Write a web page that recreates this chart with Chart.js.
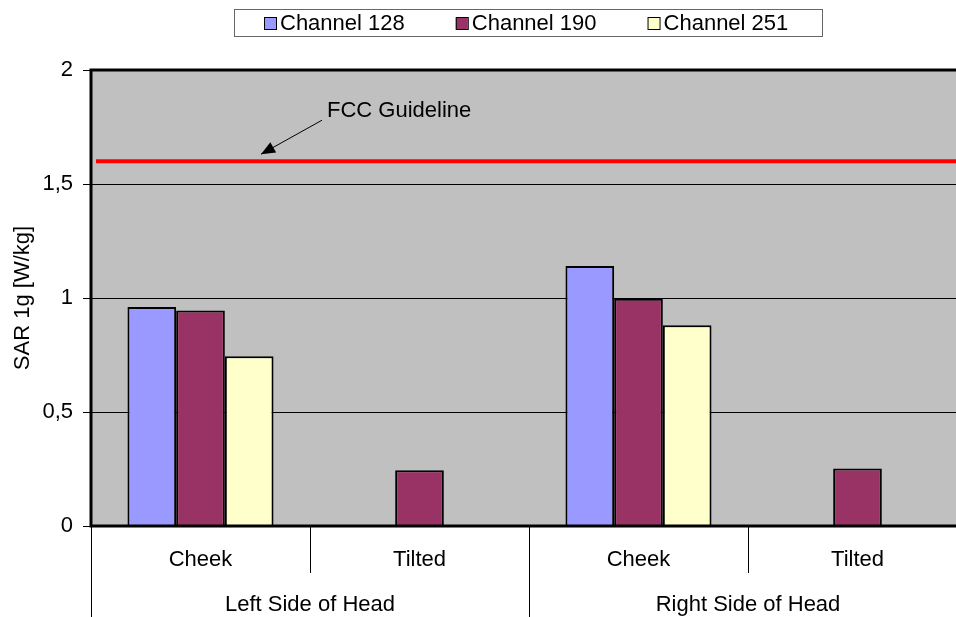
<!DOCTYPE html>
<html lang="en">
<head>
<meta charset="utf-8">
<title>SAR 1g</title>
<style>
body { margin: 0; background: #fff; }
.holder { width: 956px; height: 617px; overflow: hidden; position: relative; }
canvas { display: block; }
</style>
</head>
<body>
<div class="holder">
  <canvas id="canvas" width="985" height="617" style="width:985px;height:617px;"></canvas>
</div>

<script src="https://cdn.jsdelivr.net/npm/chart.js"></script>
<script>
// data
const categories = ["Cheek", "Tilted", "Cheek", "Tilted"];
const groups = ["Left Side of Head", "Right Side of Head"];
const seriesNames = ["Channel 128", "Channel 190", "Channel 251"];
const ch128 = [0.96, null, 1.14, null];
const ch190 = [0.945, 0.245, 0.997, 0.252];
const ch251 = [0.745, null, 0.88, null];
const yTicks = ["0", "0,5", "1", "1,5", "2"];
const guideline = 1.6;
const guideText = "FCC Guideline";

const colors = ["#9999FF", "#993366", "#FFFFCC"];
const FONT = "'Liberation Sans', Arial, sans-serif";

// background, frame, x labels, legend, guideline
const decor = {
  id: "decor",
  beforeDraw(chart) {
    const {ctx, chartArea: a} = chart;
    ctx.save();
    ctx.fillStyle = "#C0C0C0";
    ctx.fillRect(a.left, a.top, a.right - a.left, a.bottom - a.top);
    ctx.restore();
  },
  afterDatasetsDraw(chart) {
    const {ctx, chartArea: a, scales} = chart;
    const x = scales.x, y = scales.y;
    ctx.save();

    // guideline
    const gy = y.getPixelForValue(guideline);
    ctx.strokeStyle = "#FF0000";
    ctx.lineWidth = 4;
    ctx.beginPath();
    ctx.moveTo(a.left + 5, gy);
    ctx.lineTo(a.right, gy);
    ctx.stroke();

    // arrow + text
    const sx = a.left + 231, sy = gy - 41;
    const tx = a.left + 170, ty = gy - 7;
    ctx.strokeStyle = "#000";
    ctx.fillStyle = "#000";
    ctx.lineWidth = 1;
    ctx.beginPath();
    ctx.moveTo(sx, sy);
    ctx.lineTo(tx, ty);
    ctx.stroke();
    const ang = Math.atan2(ty - sy, tx - sx);
    const L = 14, W = 6;
    ctx.beginPath();
    ctx.moveTo(tx, ty);
    ctx.lineTo(tx - L * Math.cos(ang) + W * Math.sin(ang), ty - L * Math.sin(ang) - W * Math.cos(ang));
    ctx.lineTo(tx - L * Math.cos(ang) - W * Math.sin(ang), ty - L * Math.sin(ang) + W * Math.cos(ang));
    ctx.closePath();
    ctx.fill();
    ctx.font = "22px " + FONT;
    ctx.textAlign = "left";
    ctx.textBaseline = "middle";
    ctx.fillText(guideText, a.left + 236, gy - 50);

    // frame
    ctx.lineWidth = 3;
    ctx.strokeStyle = "#000";
    ctx.beginPath();
    ctx.moveTo(a.right, a.top);
    ctx.lineTo(a.left, a.top);
    ctx.lineTo(a.left, a.bottom);
    ctx.lineTo(a.right, a.bottom);
    ctx.stroke();

    // x axis labels, two levels
    ctx.lineWidth = 1;
    ctx.textAlign = "center";
    const H = chart.height;
    ctx.beginPath();
    ctx.moveTo(a.left + 0.5, a.bottom);
    ctx.lineTo(a.left + 0.5, H);
    for (let i = 0; i < categories.length - 1; i++) {
      const mx = Math.round((x.getPixelForValue(i) + x.getPixelForValue(i + 1)) / 2) + 0.5;
      ctx.moveTo(mx, a.bottom);
      ctx.lineTo(mx, (i % 2 === 1) ? H : a.bottom + 47);
    }
    ctx.stroke();
    categories.forEach((c, i) => {
      ctx.fillText(c, x.getPixelForValue(i), a.bottom + 34);
    });
    groups.forEach((g, j) => {
      const cx = (x.getPixelForValue(2 * j) + x.getPixelForValue(2 * j + 1)) / 2;
      ctx.fillText(g, cx, a.bottom + 79);
    });

    // legend
    ctx.strokeStyle = "#666";
    ctx.strokeRect(234.5, 9.5, 588, 27);
    let lx = 264;
    chart.data.datasets.forEach((ds, i) => {
      ctx.fillStyle = ds.backgroundColor;
      ctx.fillRect(lx, 17.5, 12, 12);
      ctx.strokeStyle = "#000";
      ctx.strokeRect(lx + 0.5, 17.5, 12, 12);
      ctx.fillStyle = "#000";
      ctx.textAlign = "left";
      ctx.fillText(ds.label, lx + 16, 24);
      lx += 16 + ctx.measureText(ds.label).width + 51;
    });

    ctx.restore();
  }
};

const ctx = document.getElementById("canvas").getContext("2d");
let mychart = new Chart(ctx, {
  type: "bar",
  data: {
    labels: categories,
    datasets: [
      {label: seriesNames[0], data: ch128, backgroundColor: colors[0]},
      {label: seriesNames[1], data: ch190, backgroundColor: colors[1]},
      {label: seriesNames[2], data: ch251, backgroundColor: colors[2]}
    ]
  },
  options: {
    responsive: false,
    animation: false,
    layout: {padding: {top: 70, bottom: 91, left: 0, right: 18}},
    datasets: {
      bar: {
        borderColor: "#000",
        borderWidth: 2,
        categoryPercentage: 0.667,
        barPercentage: 1.0
      }
    },
    plugins: {
      legend: {display: false},
      tooltip: {enabled: false}
    },
    scales: {
      x: {display: false},
      y: {
        min: 0,
        max: 2,
        afterFit: s => { s.width = 91; },
        border: {display: false},
        grid: {color: "#000", lineWidth: 1, tickLength: 8, tickColor: "#000"},
        ticks: {
          stepSize: 0.5,
          padding: 10,
          color: "#000",
          font: {family: FONT, size: 22},
          callback: (v, i) => yTicks[i]
        },
        title: {
          display: true,
          text: "SAR 1g [W/kg]",
          color: "#000",
          font: {family: FONT, size: 22},
          padding: {top: 10}
        }
      }
    }
  },
  plugins: [decor]
});
</script>
</body>
</html>
